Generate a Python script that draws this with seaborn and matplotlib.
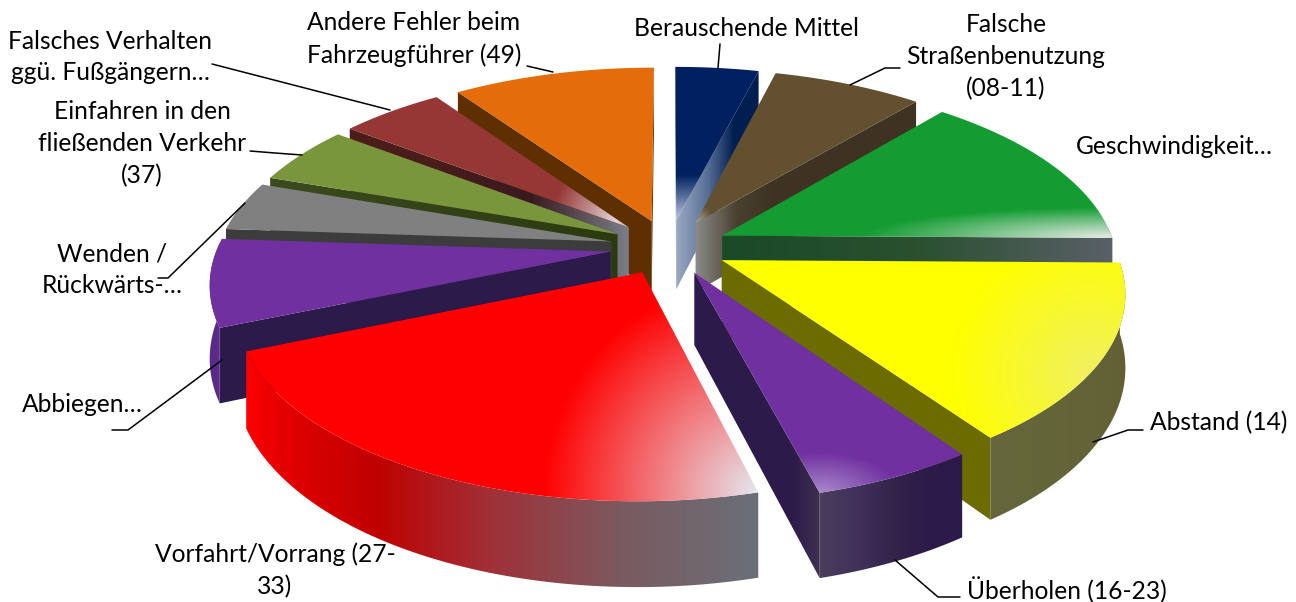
import numpy as np
import matplotlib.pyplot as plt
import seaborn as sns
from matplotlib.patches import Polygon

sns.set_theme(style='white')
plt.rcParams['font.family'] = ['Lato', 'DejaVu Sans']

# shares, clockwise from 12 o'clock
categories = ['Berauschende Mittel', 'Falsche Straßenbenutzung (08-11)', 'Geschwindigkeit…', 'Abstand (14)',
              'Überholen (16-23)', 'Vorfahrt/Vorrang (27-33)', 'Abbiegen…', 'Wenden / Rückwärts-…',
              'Einfahren in den fließenden Verkehr (37)', 'Falsches Verhalten ggü. Fußgängern…',
              'Andere Fehler beim Fahrzeugführer (49)']
shares = [4.0, 7.2, 14.0, 15.1, 5.6, 22.8, 7.4, 4.2, 5.0, 5.0, 9.7]

# colours: top face, highlight colour, outer wall ramp, radial wall ramp
top_colors = ['#002060', '#635030', '#149c32', '#ffff00', '#7030a0', '#ff0000',
              '#7030a0', '#808080', '#7a963c', '#953735', '#e46c0a']
hi_colors = ['#b8c4dc', '#a8a898', '#e8ece8', '#f0f060', '#a888cc', '#e4e8f0',
             '#7030a0', '#808080', '#7a963c', '#e4d4d4', '#e46c0a']
wall_ramps = [['#001e50'], ['#3e3323'], ['#5a6068', '#5a6068'], ['#5f5f30', '#66663c'],
              ['#2c1a4a', '#2c1a4a', '#332248', '#40305a', '#4a3e5a'],
              ['#6a7078', '#7a5a60', '#a03038', '#c00000', '#e00000', '#ff0000'],
              ['#5a2a8a'], ['#4a4a4a'], ['#3c4a20'], ['#4a1c1a'], ['#5e2f00']]
side_ramps = [['#98a8c0', '#5a7098', '#001e50', '#001e50'],
              ['#8a8a88', '#4a4030', '#3e3323', '#3e3323', '#3e3323', '#3e3323', '#3e3323'],
              ['#1a4a28', '#2a5030', '#5a6068'], ['#6b6b00', '#6b6b00'],
              ['#2c1a4a', '#2c1a4a', '#2c1a4a', '#2c1a4a', '#2c1a4a', '#3e3050'],
              ['#a00000', '#a00000'], ['#2c1a4a', '#2c1a4a'], ['#3c3c3c', '#3c3c3c'],
              ['#2c3a10', '#3c4a20'], ['#7a7e88', '#3a1a20', '#4a1c1a', '#4a1c1a'], ['#5e2f00', '#5e2f00']]
# highlight on each top face: fraction along the slice, radius, reach in px, x and y weight
hi_spots = [(0.3, 0.0, 45, 0.0, 1.0), (0.5, 0.0, 18, 1.0, 1.0), (1.0, 1.0, 30, 0.12, 1.0), (0.6, 1.0, 140, 1.0, 1.0),
            (1.0, 1.0, 40, 0.5, 1.0), (0.0, 1.0, 215, 1.0, 1.0), (0.5, 0.1, 1, 1.0, 1.0), (0.5, 0.1, 1, 1.0, 1.0),
            (0.5, 0.1, 1, 1.0, 1.0), (0.6, 0.05, 65, 1.0, 1.0), (0.5, 0.1, 1, 1.0, 1.0)]

# (text, x, y, ha)
labels = [('Berauschende Mittel', 747, 29, 'center'),
          ('Falsche\nStraßenbenutzung\n(08-11)', 1006, 57, 'center'),
          ('Geschwindigkeit…', 1076, 146, 'left'),
          ('Abstand (14)', 1150, 423, 'left'),
          ('Überholen (16-23)', 967, 590, 'left'),
          ('Vorfahrt/Vorrang (27-\n33)', 275, 570, 'center'),
          ('Abbiegen…', 22, 405, 'left'),
          ('Wenden /\nRückwärts-…', 112, 270, 'center'),
          ('Einfahren in den\nfließenden Verkehr\n(37)', 142, 144, 'center'),
          ('Falsches Verhalten\nggü. Fußgängern…', 110, 57, 'center'),
          ('Andere Fehler beim\nFahrzeugführer (49)', 414, 39, 'center')]
leaders = [[(720, 44), (718, 68)],
           [(900, 68), (885, 68), (850, 85)],
           [(1143, 430), (1128, 430), (1093, 442)],
           [(960, 597), (938, 597), (895, 560)],
           [(112, 430), (128, 430), (222, 360)],
           [(158, 278), (168, 278), (245, 203)],
           [(250, 151), (275, 153), (302, 155)],
           [(212, 64), (390, 110)],
           [(527, 66), (553, 72)]]

# camera
CX, CY = 669, 247
R = 393
TILT = 0.47
PERSP = 0.155
DEPTH = 0.18
EXPLODE = 0.15


def project(x, y, z):
    w = 1 / (1 - PERSP * y)
    return np.stack([CX + R * x * w, CY + R * (TILT * y - z) * w], axis=-1)


def ramp(colors, n):
    if len(colors) == 1:
        colors = colors * 2
    return np.array(sns.blend_palette(colors, n))


def to_rgb(color):
    return np.array(sns.color_palette([color])[0])


fig = plt.figure(figsize=(12.96, 6.02), dpi=100)
ax = fig.add_axes([0, 0, 1, 1])
ax.axis('off')

bounds = np.concatenate([[0], np.cumsum(shares)]) / np.sum(shares) * 2 * np.pi
mids = (bounds[:-1] + bounds[1:]) / 2
order = np.argsort(-np.cos(mids))


def paint(outline, shade, zorder):
    # smooth gradient: an image of the bounding box clipped to the face outline
    x0, y0 = np.floor(outline.min(axis=0)) - 2
    x1, y1 = np.ceil(outline.max(axis=0)) + 2
    X, Y = np.meshgrid(np.arange(x0, x1 + 1), np.arange(y0, y1 + 1))
    im = ax.imshow(shade(X, Y), extent=(x0 - 0.5, x1 + 0.5, y1 + 0.5, y0 - 0.5), aspect='auto',
                   interpolation='bilinear', zorder=zorder)
    im.set_clip_path(Polygon(outline, closed=True, transform=ax.transData))


def along(values, positions, colors):
    # colour ramp laid along one screen coordinate
    by = np.argsort(positions)
    return np.stack([np.interp(values, positions[by], colors[by, n]) for n in range(3)], axis=-1)


for rank, i in enumerate(order):
    t0, t1 = bounds[i], bounds[i + 1]
    ox, oy = EXPLODE * np.sin(mids[i]), -EXPLODE * np.cos(mids[i])
    z = 2 + rank * 3

    # radial walls
    for t in (t0, t1):
        rs = np.linspace(0, 1, 61)
        xs, ys = ox + rs * np.sin(t), oy - rs * np.cos(t)
        top = project(xs, ys, 0 * rs)
        bot = project(xs, ys, -DEPTH + 0 * rs)
        outline = np.vstack([top, bot[::-1]])
        area = np.sum(outline[:, 0] * np.roll(outline[:, 1], -1) - np.roll(outline[:, 0], -1) * outline[:, 1])
        # only the wall that faces the camera
        facing = area > 0 if t == t1 else area < 0
        if not facing:
            continue
        cols = ramp(side_ramps[i], 61)
        use_x = abs(top[-1, 0] - top[0, 0]) > 20

        def side_shade(X, Y, top=top, cols=cols, use_x=use_x):
            return along(X, top[:, 0], cols) if use_x else along(Y, top[:, 1], cols)

        paint(outline, side_shade, z)

    # outer wall, front half only
    ts = np.linspace(t0, t1, 161)
    vis = np.cos(ts) < 0.05
    if vis.sum() > 1:
        ts = ts[vis]
        xs, ys = ox + np.sin(ts), oy - np.cos(ts)
        top = project(xs, ys, 0 * ts)
        bot = project(xs, ys, -DEPTH + 0 * ts)
        cols = ramp(wall_ramps[i], len(ts))

        def wall_shade(X, Y, top=top, cols=cols):
            return along(X, top[:, 0], cols)

        paint(np.vstack([top, bot[::-1]]), wall_shade, z + 1)

    # top face with a highlight fading out of one spot
    fa, fr, reach, wx, wy = hi_spots[i]
    ta = t0 + fa * (t1 - t0)
    spot = project(ox + fr * np.sin(ta), oy - fr * np.cos(ta), 0.0)
    base, hi = to_rgb(top_colors[i]), to_rgb(hi_colors[i])
    tt = np.linspace(t0, t1, 161)
    rim = project(ox + np.sin(tt), oy - np.cos(tt), 0 * tt)
    apex = project(np.array([ox]), np.array([oy]), np.array([0.0]))

    def top_shade(X, Y, spot=spot, reach=reach, wx=wx, wy=wy, base=base, hi=hi):
        d = np.hypot(wx * (X - spot[0]), wy * (Y - spot[1]))
        f = np.clip(1 - d / reach, 0, 1)[..., None]
        return base + f * (hi - base)

    paint(np.vstack([apex, rim]), top_shade, z + 2)

ax.set_xlim(0, 1296)
ax.set_ylim(602, 0)

for text, x, y, ha in labels:
    ax.text(x, y, text, ha=ha, va='center', fontsize=17.7, color='black', linespacing=1.47, zorder=100)

for pts in leaders:
    pts = np.array(pts)
    ax.plot(pts[:, 0], pts[:, 1], color='black', lw=1.1, zorder=90)

fig.savefig('out.png', dpi=100, facecolor='white')
